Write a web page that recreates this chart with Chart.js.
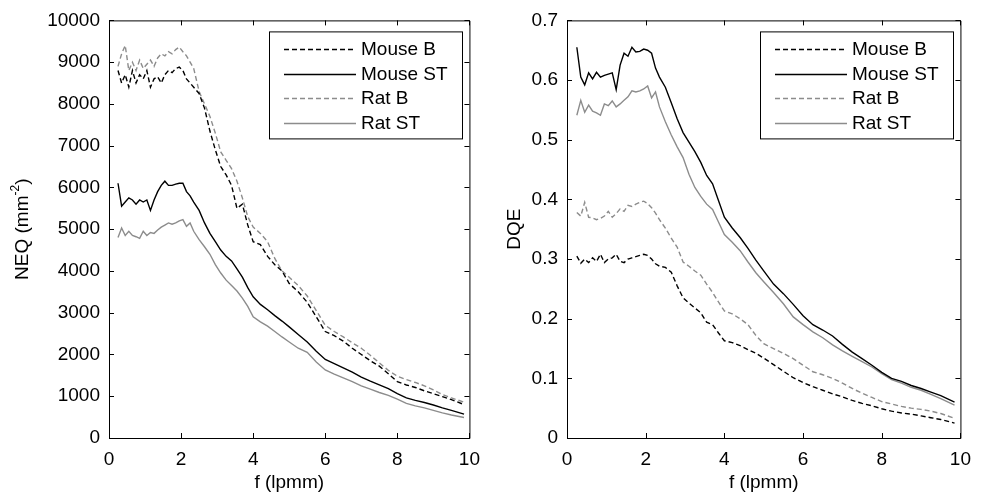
<!DOCTYPE html>
<html lang="en">
<head>
  <meta charset="UTF-8" />
  <title>NEQ and DQE</title>
  <script src="https://cdn.jsdelivr.net/npm/chart.js"></script>
  <style>
    body { margin: 0; background: #fff; }
    #wrap { position: relative; width: 981px; height: 499px; }
    canvas { position: absolute; top: 0; }
    #neqChart { left: 0; }
    #dqeChart { left: 490px; }
  </style>
</head>
<body>
  <div id="wrap">
    <canvas id="neqChart" width="490" height="499"></canvas>
    <canvas id="dqeChart" width="491" height="499"></canvas>
  </div>

  <script>
    // spatial frequency (lpmm)
    const freq = [0.25,0.35,0.45,0.55,0.65,0.75,0.85,0.95,1.05,1.15,
      1.25,1.35,1.45,1.55,1.65,1.75,1.85,1.95,2.05,2.15,
      2.25,2.35,2.5,2.65,2.8,2.95,3.1,3.25,3.4,3.55,
      3.7,3.85,4.0,4.2,4.4,4.6,4.8,5.0,5.25,5.5,
      5.75,6.0,6.25,6.5,6.75,7.0,7.25,7.5,7.75,8.0,
      8.25,8.5,8.75,9.0,9.25,9.5,9.85];

    const seriesNames = ['Mouse B', 'Mouse ST', 'Rat B', 'Rat ST'];

    // NEQ (mm^-2)
    const neqMouseB = [8800,8500,8700,8400,8800,8500,8700,8600,8800,8400,
      8600,8650,8500,8700,8800,8750,8850,8880,8800,8600,
      8500,8400,8250,7900,7350,6900,6500,6300,6050,5500,
      5600,5100,4700,4630,4350,4150,4000,3700,3500,3250,
      2900,2550,2450,2320,2150,2000,1850,1720,1540,1350,
      1270,1210,1130,1060,990,920,800];
    const neqMouseST = [6100,5550,5650,5750,5700,5600,5700,5650,5700,5450,
      5700,5900,6050,6150,6050,6050,6080,6100,6100,5900,
      5800,5650,5450,5150,4900,4700,4500,4350,4240,4050,
      3850,3600,3380,3200,3070,2930,2800,2660,2480,2300,
      2080,1880,1780,1680,1580,1460,1360,1270,1180,1060,
      960,900,850,790,720,660,570];
    const neqRatB = [8900,9200,9400,8800,9000,8800,9050,8850,8950,9050,
      8900,9100,9200,9150,9250,9200,9300,9360,9250,9150,
      9000,8850,8300,8000,7700,7300,6850,6650,6450,6150,
      5750,5300,5050,4900,4700,4300,4000,3850,3650,3400,
      3050,2700,2550,2420,2280,2150,1980,1800,1620,1480,
      1400,1330,1250,1150,1040,960,860];
    const neqRatST = [4800,5030,4850,4950,4850,4820,4780,4950,4850,4920,
      4900,4980,5050,5100,5150,5120,5150,5200,5230,5070,
      5150,4950,4750,4580,4400,4150,3950,3780,3650,3520,
      3350,3150,2900,2780,2680,2550,2420,2300,2150,2050,
      1820,1630,1530,1440,1350,1250,1170,1090,1020,930,
      830,770,720,660,600,550,490];

    // DQE
    const dqeMouseB = [0.305,0.293,0.300,0.294,0.302,0.296,0.308,0.294,0.300,0.302,
      0.308,0.296,0.294,0.300,0.302,0.304,0.306,0.308,0.306,0.300,
      0.292,0.288,0.286,0.278,0.255,0.235,0.226,0.218,0.210,0.194,
      0.190,0.176,0.163,0.160,0.155,0.148,0.142,0.134,0.123,0.112,
      0.101,0.093,0.086,0.080,0.074,0.069,0.063,0.058,0.054,0.049,
      0.045,0.042,0.040,0.037,0.034,0.031,0.025];
    const dqeMouseST = [0.655,0.605,0.592,0.612,0.602,0.613,0.605,0.608,0.610,0.612,
      0.584,0.625,0.645,0.640,0.655,0.647,0.648,0.652,0.650,0.645,
      0.620,0.605,0.588,0.562,0.535,0.512,0.496,0.480,0.462,0.440,
      0.426,0.398,0.370,0.352,0.336,0.318,0.298,0.280,0.258,0.242,
      0.224,0.205,0.190,0.181,0.171,0.157,0.144,0.133,0.122,0.110,
      0.100,0.095,0.088,0.083,0.077,0.071,0.060];
    const dqeRatB = [0.378,0.372,0.395,0.370,0.369,0.366,0.368,0.372,0.380,0.370,
      0.376,0.384,0.380,0.390,0.388,0.392,0.395,0.397,0.393,0.386,
      0.377,0.366,0.352,0.335,0.320,0.295,0.288,0.280,0.273,0.258,
      0.244,0.228,0.213,0.208,0.200,0.190,0.172,0.158,0.150,0.142,
      0.133,0.122,0.111,0.106,0.100,0.092,0.083,0.075,0.068,0.061,
      0.057,0.053,0.050,0.048,0.045,0.041,0.033];
    const dqeRatST = [0.541,0.566,0.546,0.558,0.548,0.545,0.541,0.560,0.557,0.565,
      0.555,0.560,0.566,0.572,0.582,0.580,0.582,0.585,0.590,0.570,
      0.580,0.555,0.530,0.508,0.488,0.470,0.442,0.420,0.405,0.392,
      0.383,0.362,0.341,0.328,0.314,0.295,0.277,0.262,0.244,0.225,
      0.203,0.190,0.178,0.168,0.156,0.146,0.137,0.128,0.119,0.108,
      0.098,0.092,0.085,0.080,0.073,0.066,0.055];

    const fTicks = [0, 2, 4, 6, 8, 10];
    const neqTicks = [0,1000,2000,3000,4000,5000,6000,7000,8000,9000,10000];
    const dqeTicks = [0, 0.1, 0.2, 0.3, 0.4, 0.5, 0.6, 0.7];

    const FONT = 'Liberation Sans, Arial, Helvetica, sans-serif';
    const GRAY = '#8c8c8c';
    const lineColors = ['#000', '#000', GRAY, GRAY];
    const lineDash = [[5, 3], [], [5, 3], []];

    // matlab-ish box: frame, inward ticks on all sides, boxed legend
    const matlabBox = {
      id: 'matlabBox',
      afterDraw(chart) {
        const { ctx, chartArea: a, scales: { x, y } } = chart;
        ctx.save();
        ctx.strokeStyle = '#000';
        ctx.lineWidth = 1;
        ctx.setLineDash([]);
        ctx.beginPath();
        ctx.rect(a.left + 0.5, a.top + 0.5, a.right - a.left, a.bottom - a.top);
        x.ticks.forEach(t => {
          const px = Math.round(x.getPixelForValue(t.value)) + 0.5;
          ctx.moveTo(px, a.bottom); ctx.lineTo(px, a.bottom - 5);
          ctx.moveTo(px, a.top); ctx.lineTo(px, a.top + 5);
        });
        y.ticks.forEach(t => {
          const py = Math.round(y.getPixelForValue(t.value)) + 0.5;
          ctx.moveTo(a.left, py); ctx.lineTo(a.left + 5, py);
          ctx.moveTo(a.right, py); ctx.lineTo(a.right - 5, py);
        });
        ctx.stroke();

        // legend
        ctx.font = '19px ' + FONT;
        const sets = chart.data.datasets;
        const tw = Math.max(...sets.map(d => ctx.measureText(d.label).width));
        const w = Math.round(94 + tw + 12), h = 107;
        const left = Math.round(a.right - 7 - w), top = a.top + 11;
        ctx.fillStyle = '#fff';
        ctx.fillRect(left, top, w, h);
        ctx.strokeRect(left + 0.5, top + 0.5, w, h);
        ctx.textBaseline = 'middle';
        sets.forEach((d, i) => {
          const cy = Math.round(top + 18 + i * 24.5) + 0.5;
          ctx.strokeStyle = d.borderColor;
          ctx.lineWidth = d.borderWidth;
          ctx.setLineDash(d.borderDash);
          ctx.beginPath();
          ctx.moveTo(left + 15, cy); ctx.lineTo(left + 87, cy);
          ctx.stroke();
          ctx.fillStyle = '#000';
          ctx.fillText(d.label, left + 92, cy);
        });
        ctx.restore();
      }
    };

    // NEQ title with a real superscript
    const neqTitle = {
      id: 'neqTitle',
      afterDraw(chart) {
        const ctx = chart.ctx;
        const cy = (chart.chartArea.top + chart.chartArea.bottom) / 2;
        ctx.save();
        ctx.translate(23, cy);
        ctx.rotate(-Math.PI / 2);
        ctx.fillStyle = '#000';
        ctx.textBaseline = 'middle';
        const big = '19px ' + FONT, small = '12px ' + FONT;
        ctx.font = big; const w1 = ctx.measureText('NEQ (mm').width, w3 = ctx.measureText(')').width;
        ctx.font = small; const w2 = ctx.measureText('-2').width;
        let x0 = -(w1 + w2 + w3) / 2;
        ctx.font = big; ctx.fillText('NEQ (mm', x0, 0);
        ctx.font = small; ctx.fillText('-2', x0 + w1, -7);
        ctx.font = big; ctx.fillText(')', x0 + w1 + w2, 0);
        ctx.restore();
      }
    };

    function makeChart(id, series, yTicks, yFmt, cfg) {
      return new Chart(document.getElementById(id), {
        type: 'line',
        data: {
          datasets: series.map((vals, i) => ({
            label: seriesNames[i],
            data: freq.map((f, k) => ({ x: f, y: vals[k] })),
            borderColor: lineColors[i],
            borderDash: lineDash[i],
            borderWidth: 1.4,
            pointRadius: 0,
            tension: 0,
            fill: false
          }))
        },
        options: {
          responsive: false,
          animation: false,
          layout: { padding: { top: 18, right: cfg.padRight, left: 0, bottom: 0 } },
          plugins: { legend: { display: false }, tooltip: { enabled: false } },
          scales: {
            x: {
              type: 'linear', min: 0, max: 10,
              afterBuildTicks: s => { s.ticks = fTicks.map(v => ({ value: v })); },
              afterFit: s => { s.height = 61; },
              grid: { display: false, drawTicks: false },
              border: { display: false },
              ticks: { color: '#000', font: { family: FONT, size: 19 }, padding: 10, maxRotation: 0 },
              title: { display: true, text: 'f (lpmm)', color: '#000',
                       font: { family: FONT, size: 19 }, padding: { top: 0, bottom: 5 } }
            },
            y: {
              type: 'linear', min: yTicks[0], max: yTicks[yTicks.length - 1],
              afterBuildTicks: s => { s.ticks = yTicks.map(v => ({ value: v })); },
              afterFit: s => { s.width = cfg.yWidth; },
              grid: { display: false, drawTicks: false },
              border: { display: false },
              ticks: { color: '#000', font: { family: FONT, size: 19 }, padding: 9, callback: yFmt },
              title: cfg.yTitle
                ? { display: true, text: cfg.yTitle, color: '#000',
                    font: { family: FONT, size: 19 }, padding: { top: cfg.yTitlePad, bottom: 0 } }
                : { display: false }
            }
          }
        },
        plugins: cfg.extra ? [matlabBox, cfg.extra] : [matlabBox]
      });
    }

    makeChart('neqChart', [neqMouseB, neqMouseST, neqRatB, neqRatST], neqTicks,
      v => String(v), { padRight: 14, yWidth: 109, extra: neqTitle });
    makeChart('dqeChart', [dqeMouseB, dqeMouseST, dqeRatB, dqeRatST], dqeTicks,
      v => (v === 0 ? '0' : v.toFixed(1)), { padRight: 15, yWidth: 77, yTitle: 'DQE', yTitlePad: 13 });
  </script>
</body>
</html>
